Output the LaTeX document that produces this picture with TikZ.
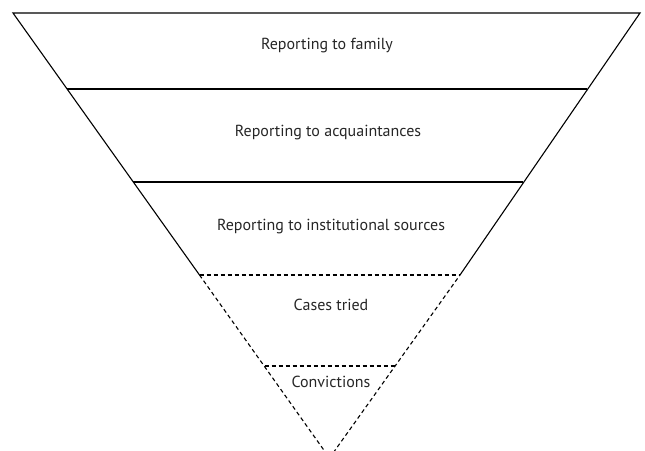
\documentclass[tikz,border=0pt]{standalone}
\usepackage{fontspec}
\setmainfont{PT Sans}
\begin{document}
\begin{tikzpicture}[x=1pt,y=-1pt,
  edge/.style={line width=1.1pt,black},
  dashedge/.style={line width=1.1pt,black,dash pattern=on 4pt off 3pt},
  lab/.style={font=\fontsize{16}{19}\selectfont,text=black!85,inner sep=0pt}]
\useasboundingbox (0,0) rectangle (645,450);
\clip (0,0) rectangle (645,450);
\coordinate (l0) at (13,13);   \coordinate (r0) at (640,13);
\coordinate (l1) at (67,89);   \coordinate (r1) at (587,89);
\coordinate (l2) at (133,182); \coordinate (r2) at (523,182);
\coordinate (l3) at (199.5,275); \coordinate (r3) at (460,275);
\coordinate (l4) at (264.5,366); \coordinate (r4) at (395.5,366);
\coordinate (apex) at (329.5,458);
\draw[edge] (l3) -- (l0) -- (r0) -- (r3);
\draw[edge] (l1) -- (r1);
\draw[edge] (l2) -- (r2);
\draw[dashedge] (l3) -- (r3);
\draw[dashedge] (l4) -- (r4);
\draw[dashedge] (l3) -- (apex) -- (r3);
\node[lab] (t1) at (327,46) {Reporting to family};
\node[lab] (t2) at (328,133) {Reporting to acquaintances};
\node[lab] (t3) at (331,227) {Reporting to institutional sources};
\node[lab] (t4) at (331,305) {Cases tried};
\node[lab] (t5) at (331,382) {Convictions};
\end{tikzpicture}
\end{document}
